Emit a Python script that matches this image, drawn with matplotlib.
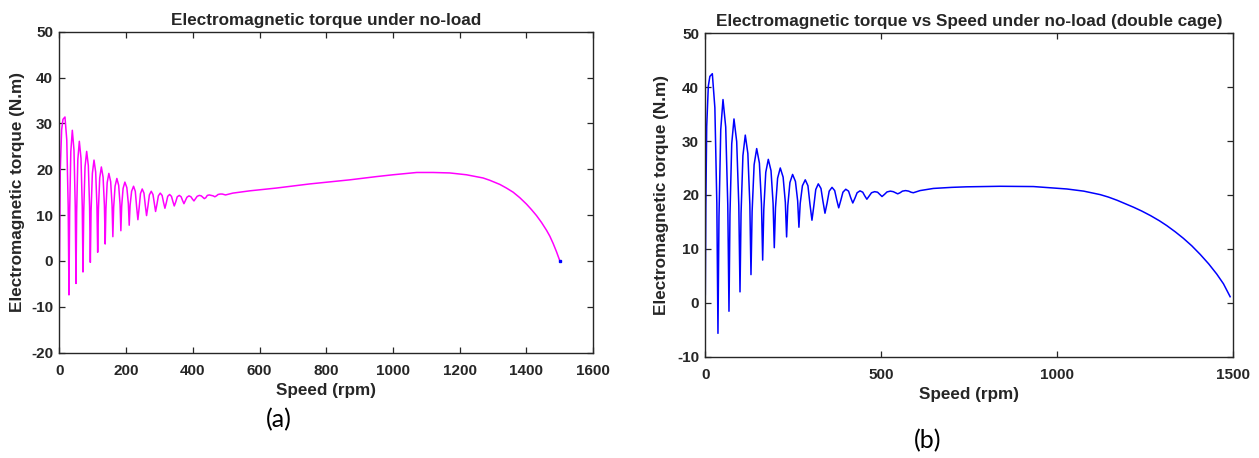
import matplotlib
matplotlib.use("Agg")
import matplotlib.pyplot as plt

# (a) single cage, no-load run-up: speed (rpm) / electromagnetic torque (N.m)
speed_a = [0.5, 3, 7, 11, 17,
           22.4, 26.6, 29, 31, 34.5, 39,
           44.0, 47.8, 50, 52, 55.5, 60,
           65.0, 68.8, 71, 73.2, 77.1, 82,
           87.0, 90.8, 93, 95.2, 99.1, 104,
           109.0, 112.8, 115, 117.2, 121.1, 126,
           131.2, 135.2, 137.5, 139.7, 143.5, 148.5,
           153.9, 158.1, 160.5, 162.9, 167.1, 172.5,
           177.9, 182.1, 184.5, 186.9, 191.1, 196.5,
           202.4, 206.9, 209.5, 212.1, 216.7, 222.5,
           227.7, 231.6, 235.5, 239.4, 243.3, 248.5,
           253.7, 257.6, 261.5, 265.7, 269.9, 275.5,
           280.7, 284.6, 288.5, 292.7, 296.9, 302.5,
           308.1, 312.3, 316.5, 320.7, 324.9, 330.5,
           336.1, 340.3, 344.5, 349.0, 353.5, 359.5,
           365.1, 369.3, 373.5, 378.0, 382.5, 388.5,
           394.5, 399.0, 403.5, 408.3, 413.1, 419.5,
           425.5, 430.0, 434.5, 439.0, 443.5, 449.5,
           456.1, 461.1, 466, 470.8, 475.6, 482,
           488.4, 493.2, 498,
           520, 571, 650, 750, 871, 950, 1000, 1071, 1120, 1170, 1220,
           1270, 1290, 1320, 1340, 1360, 1380, 1400, 1415, 1430, 1445,
           1460, 1470, 1480, 1490, 1500]
torque_a = [0.0, 20.0, 28.6, 30.9, 31.4,
            26.4, 12.0, -7.4, 10.6, 23.8, 28.5,
            24.2, 11.8, -4.9, 10.6, 22.1, 26.1,
            22.4, 11.9, -2.4, 10.8, 20.5, 23.9,
            20.8, 11.8, -0.3, 10.9, 19.1, 22.0,
            19.4, 12.0, 1.9, 11.2, 18.1, 20.5,
            18.3, 12.1, 3.7, 11.4, 17.1, 19.1,
            17.3, 12.2, 5.3, 11.7, 16.3, 18.0,
            16.5, 12.3, 6.6, 11.9, 15.8, 17.2,
            16.0, 12.5, 7.8, 12.1, 15.2, 16.3,
            15.2, 11.9, 9.0, 11.7, 14.7, 15.7,
            14.8, 12.2, 9.9, 12.0, 14.4, 15.2,
            14.5, 12.6, 10.8, 12.4, 14.2, 14.8,
            14.3, 12.8, 11.5, 12.7, 14.1, 14.5,
            14.1, 13.0, 12.0, 12.9, 14.0, 14.3,
            14.0, 13.2, 12.5, 13.2, 13.9, 14.2,
            14.0, 13.5, 13.1, 13.6, 14.1, 14.3,
            14.2, 13.9, 13.6, 13.8, 14.3, 14.4,
            14.3, 14.2, 14.0, 14.2, 14.5, 14.6,
            14.6, 14.5, 14.4,
            14.8, 15.3, 15.9, 16.8, 17.7, 18.4, 18.8, 19.3, 19.3, 19.2, 18.8,
            18.1, 17.6, 16.7, 15.9, 15.0, 13.8, 12.4, 11.2, 9.9, 8.4,
            6.7, 5.4, 3.8, 2.0, 0.0]

# (b) double cage
speed_b = [0, 1.5, 4, 8.6, 13, 20,
           27.2, 32.8, 36, 38.9, 43.9, 50.3,
           58.0, 63.9, 67.3, 70.1, 75.1, 81.5,
           89.2, 95.2, 98.6, 101.6, 106.9, 113.6,
           120.9, 126.6, 129.8, 133.0, 138.7, 146,
           153.7, 159.6, 163, 166.2, 171.8, 179,
           186.7, 192.6, 196, 199.4, 205.4, 213,
           221.1, 227.4, 231, 234.4, 240.4, 248,
           256.1, 262.4, 266, 269.6, 275.9, 284,
           291.6, 297.3, 303, 308.4, 313.8, 321,
           328.6, 334.3, 340, 346, 352, 360,
           367.6, 373.3, 379, 385, 391, 399,
           407, 413, 419, 425.2, 431.3, 439.5,
           447.3, 453.2, 459, 465.6, 472.2, 481,
           489.4, 495.7, 502, 509.1, 516.2, 525.6,
           534, 540.3, 546.6, 553.3, 560, 569,
           577.8, 584.4, 591,
           610, 648, 700, 742, 837, 932, 1027, 1075, 1122, 1145, 1170, 1217,
           1240, 1265, 1290, 1311, 1335, 1358, 1382, 1406, 1430, 1453, 1472,
           1491]
torque_b = [1.5, 18.0, 32.7, 40.2, 42.0, 42.5,
            36.2, 18.4, -5.7, 16.0, 32.1, 37.7,
            32.6, 18.1, -1.6, 16.3, 29.5, 34.1,
            29.9, 18.1, 2.0, 16.6, 27.3, 31.1,
            27.7, 18.2, 5.2, 16.9, 25.6, 28.6,
            25.9, 18.3, 7.9, 17.3, 24.2, 26.6,
            24.5, 18.4, 10.2, 17.6, 23.1, 25.0,
            23.3, 18.6, 12.2, 18.0, 22.3, 23.8,
            22.5, 18.9, 14.0, 18.4, 21.7, 22.8,
            21.7, 18.3, 15.3, 18.0, 21.0, 22.05,
            21.2, 18.8, 16.6, 18.5, 20.7, 21.4,
            20.8, 19.1, 17.6, 19.0, 20.5, 21.05,
            20.7, 19.5, 18.5, 19.4, 20.4, 20.75,
            20.5, 19.8, 19.2, 19.8, 20.4, 20.6,
            20.5, 20.1, 19.7, 20.1, 20.55, 20.7,
            20.6, 20.4, 20.2, 20.4, 20.7, 20.8,
            20.7, 20.5, 20.4,
            20.8, 21.2, 21.4, 21.5, 21.6, 21.55, 21.1, 20.7, 20.05, 19.6, 19.0,
            17.7, 17.0, 16.15, 15.2, 14.3, 13.15, 11.95, 10.55, 8.95, 7.2, 5.3,
            3.5, 1.1]

xticks_a = [0, 200, 400, 600, 800, 1000, 1200, 1400, 1600]
yticks_a = [-20, -10, 0, 10, 20, 30, 40, 50]
xticks_b = [0, 500, 1000, 1500]
yticks_b = [-10, 0, 10, 20, 30, 40, 50]

dark = "#262626"
plt.rcParams["font.family"] = ["Liberation Sans", "DejaVu Sans"]
plt.rcParams["font.weight"] = "bold"
plt.rcParams["text.color"] = dark
plt.rcParams["axes.labelcolor"] = dark
plt.rcParams["axes.labelweight"] = "bold"
plt.rcParams["axes.titleweight"] = "bold"
plt.rcParams["axes.unicode_minus"] = False

fig = plt.figure(figsize=(12.59, 4.58), dpi=100)
ax1 = fig.add_axes([0.0471, 0.2299, 0.4241, 0.7009])
ax2 = fig.add_axes([0.5602, 0.2216, 0.4194, 0.7057])

ax1.plot(speed_a, torque_a, color="#FF00FF", lw=1.1)
ax1.plot(speed_a[-1], torque_a[-1], "s", color="blue", ms=1.5)
ax2.plot(speed_b, torque_b, color="#0000FF", lw=1.1)


def style(ax, xt, yt, title, ylpad):
    ax.set_xlim(xt[0], xt[-1])
    ax.set_ylim(yt[0], yt[-1])
    ax.set_xticks(xt)
    ax.set_yticks(yt)
    ax.tick_params(direction="in", length=4.5, width=0.9, colors=dark,
                   labelsize=11, top=True, right=True)
    ax.tick_params(axis="x", pad=8)
    ax.tick_params(axis="y", pad=4.5)
    for s in ax.spines.values():
        s.set_color(dark)
        s.set_linewidth(1.0)
    ax.set_title(title, fontsize=12.3, pad=5)
    ax.set_xlabel("Speed (rpm)", fontsize=12.3, labelpad=4)
    ax.set_ylabel("Electromagnetic torque (N.m)", fontsize=12.3, labelpad=ylpad)


style(ax1, xticks_a, yticks_a, "Electromagnetic torque under no-load", 4)
style(ax2, xticks_b, yticks_b,
      "Electromagnetic torque vs Speed under no-load (double cage)", 6)

fig.text(279 / 1259, 1 - 420 / 458, "(a)", fontsize=18, fontweight="normal",
         family=["Lato", "DejaVu Sans"], ha="center", va="center", color="black")
fig.text(928 / 1259, 1 - 441 / 458, "(b)", fontsize=18, fontweight="normal",
         family=["Lato", "DejaVu Sans"], ha="center", va="center", color="black")

fig.savefig("out.png", dpi=100)
